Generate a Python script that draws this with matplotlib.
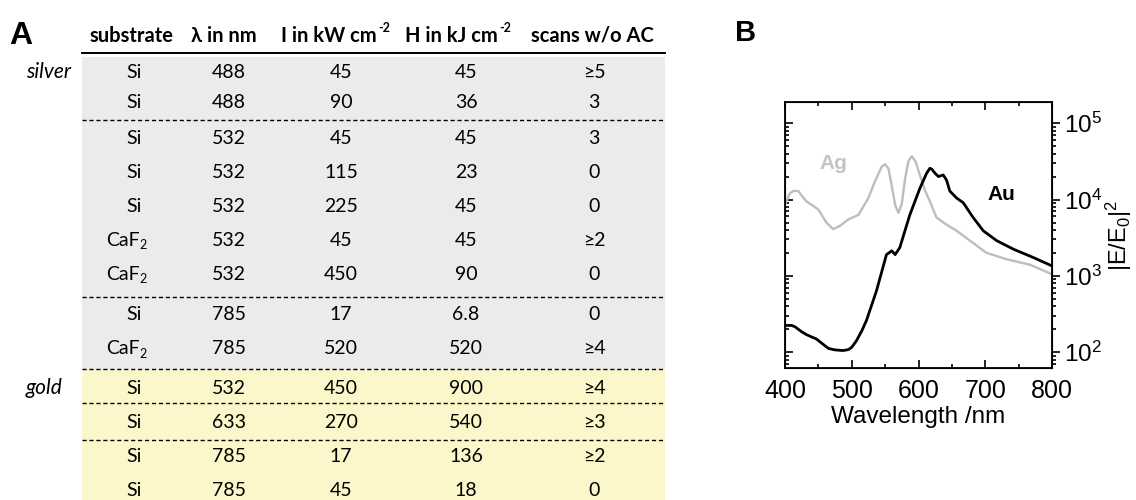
import numpy as np
import matplotlib
matplotlib.use('Agg')
import matplotlib.pyplot as plt
from matplotlib.patches import Rectangle
from matplotlib.ticker import MultipleLocator, LogLocator, NullFormatter

plt.rcParams['mathtext.fontset'] = 'custom'
plt.rcParams['mathtext.rm'] = 'Liberation Sans'
plt.rcParams['mathtext.it'] = 'Liberation Sans:italic'
plt.rcParams['mathtext.bf'] = 'Liberation Sans:bold'
plt.rcParams['font.family'] = ['Liberation Sans', 'DejaVu Sans']

TBL = ['Lato', 'DejaVu Sans']

# --- table A ---
headers = ['substrate', 'λ in nm', 'I in kW cm', 'H in kJ cm', 'scans w/o AC']
metal = ['silver'] * 9 + ['gold'] * 4
substrate = ['Si', 'Si', 'Si', 'Si', 'Si', 'CaF', 'CaF', 'Si', 'CaF',
             'Si', 'Si', 'Si', 'Si']
wavelength = ['488', '488', '532', '532', '532', '532', '532', '785', '785',
              '532', '633', '785', '785']
intensity = ['45', '90', '45', '115', '225', '45', '450', '17', '520',
             '450', '270', '17', '45']
fluence = ['45', '36', '45', '23', '45', '45', '90', '6.8', '520',
           '900', '540', '136', '18']
scans = ['≥5', '3', '3', '0', '0', '≥2', '0', '0', '≥4',
         '≥4', '≥3', '≥2', '0']

# --- panel B spectra ---
wl_au = [400, 410, 415, 425, 432, 440, 447, 458, 465, 475, 487, 495, 500, 507,
         515, 522, 537, 552, 560, 565, 572, 587, 602, 612, 617, 620, 625, 630,
         637, 642, 647, 657, 667, 682, 697, 717, 742, 772, 800]
au = [224, 224, 215, 185, 170, 158, 149, 125, 112, 107, 105, 108, 116, 141,
      190, 260, 635, 1900, 2130, 1900, 2350, 6300, 14000, 22000, 25700, 25000,
      22000, 20000, 21000, 18000, 12900, 10500, 9100, 5800, 3900, 2900, 2240,
      1740, 1350]
wl_ag = [400, 407, 413, 420, 426, 432, 450, 462, 472, 482, 495, 510, 525, 535,
         545, 550, 555, 560, 565, 570, 575, 580, 585, 590, 596, 602, 610, 617,
         627, 642, 657, 677, 702, 732, 767, 800]
ag = [8500, 12000, 13000, 12900, 11000, 9500, 7400, 5000, 4100, 4500, 5500, 6300,
      10500, 17500, 27000, 29000, 25500, 15000, 8500, 6700, 8800, 19000, 32000,
      37000, 31000, 21000, 13000, 9500, 5800, 4700, 3900, 2900, 2000, 1650, 1400,
      1050]

fig = plt.figure(figsize=(11.36, 5), dpi=100)

tb = fig.add_axes([0, 0, 1, 1])
tb.set_xlim(0, 1136)
tb.set_ylim(500, 0)
tb.axis('off')

row_y = [72, 103, 138, 172, 206, 240, 274, 315, 349, 388, 422, 457, 490]
sep_y = [120, 297, 369, 403, 440]
col_x = [134, 229, 341, 466, 594]
x0, x1 = 82, 665

tb.add_patch(Rectangle((x0, 57), x1 - x0, 369 - 57, color='#ebebeb', lw=0))
tb.add_patch(Rectangle((x0, 369), x1 - x0, 500 - 369, color='#fbf7cb', lw=0))
tb.plot([x0, x1], [53, 53], color='k', lw=1.4)
for y in sep_y:
    tb.plot([x0, x1], [y, y], color='k', lw=1.0, ls=(0, (3, 2)))

# header
hy = 36
hfs = 14.5
tb.text(132, hy, headers[0], ha='center', va='center', fontsize=hfs,
        fontweight='bold', family=TBL)
tb.text(224, hy, headers[1], ha='center', va='center', fontsize=hfs,
        fontweight='bold', family=TBL)
for name, xr in [(headers[2], 377), (headers[3], 498)]:
    tb.text(xr, hy, name, ha='right', va='center', fontsize=hfs,
            fontweight='bold', family=TBL)
    tb.text(xr + 1, hy - 8, '-2', ha='left', va='center', fontsize=9,
            fontweight='bold', family=TBL)
tb.text(592, hy, headers[4], ha='center', va='center', fontsize=hfs,
        fontweight='bold', family=TBL)

dfs = 14
for i, y in enumerate(row_y):
    if i == 0 or metal[i] != metal[i - 1]:
        tb.text(26, y, metal[i], ha='left', va='center', fontsize=15,
                style='italic', family=TBL)
    if substrate[i] == 'CaF':
        tb.text(col_x[0] + 6, y, 'CaF', ha='right', va='center', fontsize=dfs,
                family=TBL)
        tb.text(col_x[0] + 5, y + 5, '2', ha='left', va='center', fontsize=9,
                family=TBL)
    else:
        tb.text(col_x[0], y, substrate[i], ha='center', va='center',
                fontsize=dfs, family=TBL)
    for xc, vals in zip(col_x[1:], [wavelength, intensity, fluence, scans]):
        tb.text(xc, y, vals[i], ha='center', va='center', fontsize=dfs,
                family=TBL)

fig.text(21 / 1136, 1 - 36 / 500, 'A', fontsize=23, fontweight='bold',
         ha='center', va='center')
fig.text(746 / 1136, 1 - 33 / 500, 'B', fontsize=21, fontweight='bold',
         ha='center', va='center')

# panel B
ax = fig.add_axes([785 / 1136, 132 / 500, 267 / 1136, 266 / 500])
ax.semilogy(wl_ag, ag, color='#bdbdbd', lw=1.7)
ax.semilogy(wl_au, au, color='k', lw=2.0)
ax.set_xlim(400, 800)
ax.set_ylim(62, 1.9e5)
ax.xaxis.set_major_locator(MultipleLocator(100))
ax.xaxis.set_minor_locator(MultipleLocator(50))
ax.yaxis.set_minor_locator(LogLocator(base=10, subs=np.arange(2, 10), numticks=20))
ax.yaxis.set_minor_formatter(NullFormatter())
ax.tick_params(which='both', direction='in', top=True, bottom=True,
               left=True, right=False, labelleft=False, width=1.2)
ax.tick_params(which='major', length=6)
ax.tick_params(which='minor', length=3)
ax.tick_params(axis='x', labelsize=18, pad=8)
for s in ax.spines.values():
    s.set_linewidth(1.3)
ax.set_xlabel('Wavelength /nm', fontsize=17.5, labelpad=2)

# right-hand log axis with outward ticks
ay = ax.twinx()
ay.set_yscale('log')
ay.set_ylim(ax.get_ylim())
ay.yaxis.set_minor_locator(LogLocator(base=10, subs=np.arange(2, 10), numticks=20))
ay.yaxis.set_minor_formatter(NullFormatter())
ay.tick_params(which='both', direction='out', width=1.2, labelsize=17.5, pad=3)
ay.tick_params(which='major', length=6)
ay.tick_params(which='minor', length=3)
ay.set_ylabel(r'|E/E$_0$|$^2$', fontsize=17, rotation=90, labelpad=1)

ax.text(472, 29500, 'Ag', color='#c4c4c4', fontsize=15, fontweight='bold',
        ha='center', va='center')
ax.text(724, 11700, 'Au', color='k', fontsize=15, fontweight='bold',
        ha='center', va='center')

fig.savefig('out.png', dpi=100)
